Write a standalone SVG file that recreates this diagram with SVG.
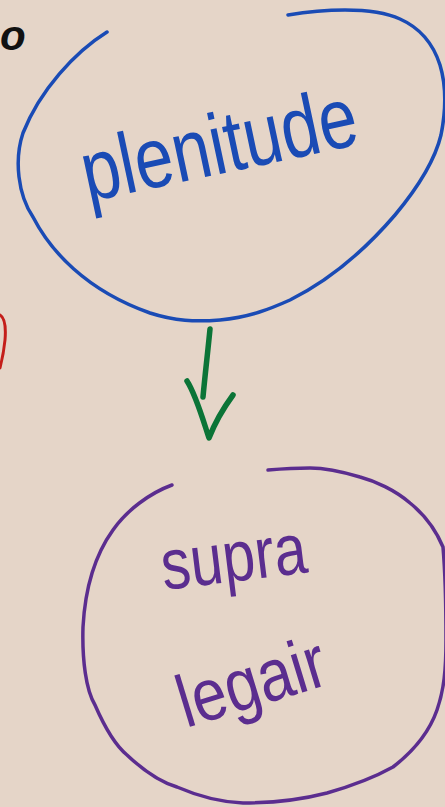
<svg xmlns="http://www.w3.org/2000/svg" width="445" height="807" viewBox="0 0 445 807">
<style>
.bg{fill:#e5d5c8}
.ink{fill:none;stroke-linecap:round;stroke-linejoin:round}
.blue{stroke:#1a4bb5;stroke-width:3.5}
.purple{stroke:#5b2d8f;stroke-width:3.5}
.green{stroke:#0b7437;stroke-width:5.5}
.red{stroke:#c41e1a;stroke-width:3}
.hand{font-family:"Liberation Sans","DejaVu Sans",sans-serif}
</style>
<rect class="bg" x="0" y="0" width="445" height="807"/>
<g id="fragment-o">
<text x="0" y="50" font-family="'Liberation Sans',sans-serif" font-style="italic" font-weight="bold" font-size="42" fill="#111">o</text>
</g>
<g id="fragment-red">
<path class="ink red" d="M0,315 C5,318 6,328 5,340 C4,350 2,360 0,368"/>
</g>
<g id="node-plenitude">
<path class="ink blue" d="M107,32 C75,52 40,90 23,133 C14,160 18,195 33,217 C50,250 85,290 150,313 C175,321 195,322 220,320 C250,317 270,309 290,300 C330,280 365,250 395,215 C420,185 435,160 441,135 C446,110 446,85 440,65 C432,40 418,27 400,19 C385,12 365,10 345,10 C320,10 300,13 288,15"/>
<text class="hand" x="88" y="202" font-size="86" fill="#1a4bb5" textLength="280" lengthAdjust="spacingAndGlyphs" transform="rotate(-12 88 202)">plenitude</text>
</g>
<g id="connectors">
<path class="ink green" d="M210,329 C208,350 205,375 203,397"/>
<path class="ink green" d="M187,381 C196,395 203,420 209,438 C214,425 222,410 233,395"/>
</g>
<g id="node-supra-legair">
<path class="ink purple" d="M172,485 C150,493 127,510 113,530 C95,555 85,590 83,627 C82,660 86,690 95,705 C105,728 115,745 127,755 C145,772 160,782 177,787 C200,797 220,802 243,803 C275,803 300,800 327,793 C355,785 375,777 393,767 C415,750 430,730 437,710 C444,690 446,670 446,640 C446,600 445,570 443,547 C435,528 425,515 410,503 C395,490 375,481 360,477 C340,471 320,468 310,468 C295,468 280,469 268,470"/>
<text class="hand" x="164" y="590" font-size="72" fill="#5b2d8f" textLength="146" lengthAdjust="spacingAndGlyphs" transform="rotate(-7 164 590)">supra</text>
<text class="hand" x="186" y="728" font-size="74" fill="#5b2d8f" textLength="152" lengthAdjust="spacingAndGlyphs" transform="rotate(-17 186 728)">legair</text>
</g>
</svg>
